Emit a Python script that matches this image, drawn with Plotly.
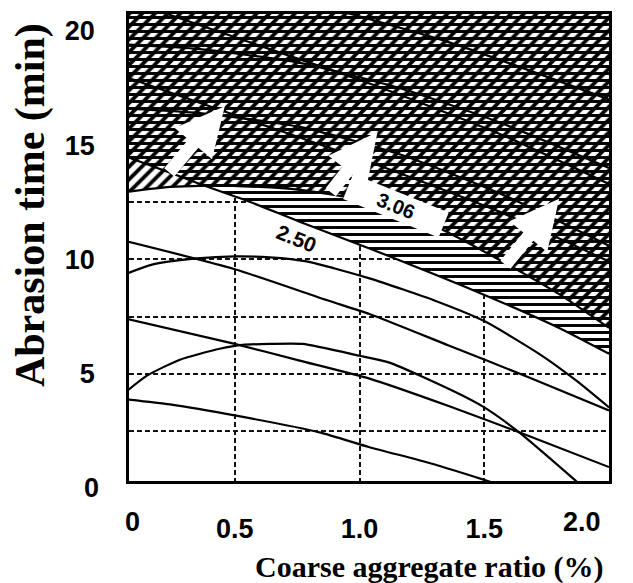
import plotly.graph_objects as go

# ---------------- data ----------------
X_MIN, X_MAX = 0.076, 2.0
Y_MIN, Y_MAX = 0.30, 20.74

# response "A" contours (arched curves); A1 is the 3.06 contour
A1_x = [0.07, 0.24, 0.36, 0.60, 0.76, 0.96, 1.16, 1.308, 1.572, 1.80, 2.0]
A1_y = [12.96, 13.17, 13.22, 13.17, 13.04, 12.70, 12.09, 11.43, 9.91, 8.48, 7.0]
A2_x = [0.07, 0.172, 0.348, 0.50, 0.64, 0.788, 1.04, 1.308, 1.50, 1.732, 1.868, 2.0]
A2_y = [9.39, 9.78, 10.04, 10.13, 10.09, 9.91, 9.17, 8.17, 7.30, 5.78, 4.70, 3.52]
A3_x = [0.07, 0.148, 0.28, 0.44, 0.532, 0.64, 0.772, 1.0, 1.12, 1.388, 1.50, 1.64, 1.868, 1.93]
A3_y = [4.26, 4.91, 5.61, 6.09, 6.26, 6.30, 6.30, 5.78, 5.48, 4.17, 3.52, 2.43, 0.30, -0.30]
A0_x = [0.07, 0.36, 0.76, 1.16, 1.56, 2.0]
A0_y = [16.6, 16.4, 15.8, 14.6, 12.9, 10.6]
Am1_x = [0.07, 0.36, 0.76, 1.16, 1.56, 2.0]
Am1_y = [19.4, 19.2, 18.6, 17.5, 16.0, 14.0]

# response "B" contours (descending lines); B1 is the 2.50 contour
B1_x = [0.07, 0.20, 0.36, 0.56, 0.76, 1.04, 1.30, 1.56, 1.80, 2.0]
B1_y = [14.48, 13.96, 13.30, 12.52, 11.65, 10.48, 9.35, 8.17, 7.0, 5.87]
B2_x = [0.07, 0.50, 0.868, 1.04, 1.36, 1.68, 2.0]
B2_y = [10.78, 9.57, 8.22, 7.61, 6.22, 4.83, 3.39]
B3_x = [0.07, 0.50, 0.76, 1.04, 1.36, 1.64, 2.0]
B3_y = [7.39, 6.30, 5.57, 4.78, 3.57, 2.43, 0.91]
B4_x = [0.07, 0.24, 0.50, 0.84, 1.04, 1.28, 1.50, 1.56]
B4_y = [3.87, 3.65, 3.17, 2.43, 1.78, 1.09, 0.35, 0.13]
B0_x = [0.07, 0.56, 1.04, 1.56, 2.0]
B0_y = [17.96, 16.09, 14.26, 12.09, 9.91]
Bm1_x = [0.16, 0.56, 1.04, 1.56, 2.0]
Bm1_y = [21.0, 19.5, 17.7, 15.5, 13.3]
Bm2_x = [0.88, 1.36, 2.0]
Bm2_y = [21.0, 19.5, 17.0]

arrow_tail_x = [0.232, 0.88, 1.58]
arrow_tail_y = [13.74, 12.87, 9.70]
arrow_tip_x = [0.46, 1.072, 1.80]
arrow_tip_y = [16.70, 15.57, 12.65]

label_306 = (1.148, 12.35, "3.06")
label_250 = (0.748, 10.91, "2.50")

x_ticks = [0.5, 1.0, 1.5]
x_ticktext = ["0.5", "1.0", "1.5"]
y_ticks = [5, 10, 15, 20]
y_minor_grid = [2.5, 7.5, 12.5, 17.5]

# ---------------- figure ----------------
fig = go.Figure()

def region_above(xs, ys):
    px = list(xs) + [xs[-1], xs[0]]
    py = list(ys) + [Y_MAX + 1, Y_MAX + 1]
    return px, py

# white background of the hatched regions (hides grid)
for xs, ys in [(A1_x, A1_y), (B1_x, B1_y)]:
    px, py = region_above(xs, ys)
    fig.add_trace(go.Scatter(x=px, y=py, mode="none", fill="toself",
                             fillcolor="white", hoverinfo="skip"))

# diagonal hatch above the 3.06 contour
px, py = region_above(A1_x, A1_y)
fig.add_trace(go.Scatter(x=px, y=py, mode="none", fill="toself",
                         fillcolor="rgba(0,0,0,0)",
                         fillpattern=dict(shape="/", size=9, solidity=0.42,
                                          fgcolor="black", fgopacity=1,
                                          bgcolor="rgba(0,0,0,0)"),
                         hoverinfo="skip"))
# horizontal hatch above the 2.50 contour
px, py = region_above(B1_x, B1_y)
fig.add_trace(go.Scatter(x=px, y=py, mode="none", fill="toself",
                         fillcolor="rgba(0,0,0,0)",
                         fillpattern=dict(shape="-", size=7, solidity=0.42,
                                          fgcolor="black", fgopacity=1,
                                          bgcolor="rgba(0,0,0,0)"),
                         hoverinfo="skip"))

curves = [(A1_x, A1_y), (A2_x, A2_y), (A3_x, A3_y), (A0_x, A0_y), (Am1_x, Am1_y),
          (B1_x, B1_y), (B2_x, B2_y), (B3_x, B3_y), (B4_x, B4_y), (B0_x, B0_y),
          (Bm1_x, Bm1_y), (Bm2_x, Bm2_y)]
for xs, ys in curves:
    fig.add_trace(go.Scatter(x=xs, y=ys, mode="lines",
                             line=dict(color="black", width=2.2, shape="spline", smoothing=0.6),
                             hoverinfo="skip"))

annotations = []
for tx, ty, hx, hy in zip(arrow_tail_x, arrow_tail_y, arrow_tip_x, arrow_tip_y):
    annotations.append(dict(x=hx, y=hy, ax=tx, ay=ty, xref="x", yref="y",
                            axref="x", ayref="y", text="", showarrow=True,
                            arrowhead=2, arrowsize=0.75, arrowwidth=13,
                            arrowcolor="white"))

annotations.append(dict(x=label_306[0], y=label_306[1], text=label_306[2],
                        xref="x", yref="y", showarrow=False, textangle=22,
                        bgcolor="white", width=100, height=24,
                        font=dict(family="Liberation Sans", size=20, color="black",
                                  weight="bold")))
annotations.append(dict(x=label_250[0], y=label_250[1], text=label_250[2],
                        xref="x", yref="y", showarrow=False, textangle=22,
                        font=dict(family="Liberation Sans", size=21, color="black",
                                  weight="bold")))

tick_font = dict(family="Liberation Sans", size=27, color="black", weight="bold")
# axis-origin labels and the end label of the x axis
annotations.append(dict(x=0, y=(0 - Y_MIN) / (Y_MAX - Y_MIN), xref="paper", yref="paper",
                        text="0", showarrow=False, xanchor="right", yanchor="middle",
                        xshift=-28, font=tick_font))
annotations.append(dict(x=0, y=0, xref="paper", yref="paper", text="0", showarrow=False,
                        xanchor="center", yanchor="top", yshift=-24, xshift=3,
                        font=tick_font))
annotations.append(dict(x=1, y=0, xref="paper", yref="paper", text="2.0", showarrow=False,
                        xanchor="right", yanchor="top", yshift=-24, xshift=-6,
                        font=tick_font))

annotations.append(dict(x=-0.206, y=0.591, xref="paper", yref="paper",
                        text="Abrasion time (min)", textangle=-90, showarrow=False,
                        xanchor="center", yanchor="middle",
                        font=dict(family="Liberation Serif", size=42, color="black",
                                  weight="bold")))
annotations.append(dict(x=0.627, y=-0.185, xref="paper", yref="paper",
                        text="Coarse aggregate ratio (%)", showarrow=False,
                        xanchor="center", yanchor="middle",
                        font=dict(family="Liberation Serif", size=30, color="black",
                                  weight="bold")))

fig.update_layout(
    width=633, height=583, autosize=False,
    margin=dict(l=129, r=24, t=11, b=102, pad=0),
    plot_bgcolor="white", paper_bgcolor="white",
    showlegend=False,
    annotations=annotations,
    xaxis=dict(range=[X_MIN, X_MAX], tickvals=x_ticks, ticktext=x_ticktext,
               showgrid=True, griddash="5px,3px", gridcolor="#111", gridwidth=1.6,
               showline=True, mirror=True, linecolor="black", linewidth=2.5,
               ticks="", ticklabelstandoff=22, tickfont=tick_font, zeroline=False),
    yaxis=dict(range=[Y_MIN, Y_MAX], tickvals=y_ticks,
               showgrid=True, griddash="5px,3px", gridcolor="#111", gridwidth=1.6,
               minor=dict(tickvals=y_minor_grid, showgrid=True, griddash="5px,3px",
                          gridcolor="#111", gridwidth=1.6),
               showline=True, mirror=True, linecolor="black", linewidth=2.5,
               ticks="", ticklabelstandoff=26, tickfont=tick_font, zeroline=False),
)

fig.write_html("out.html")
